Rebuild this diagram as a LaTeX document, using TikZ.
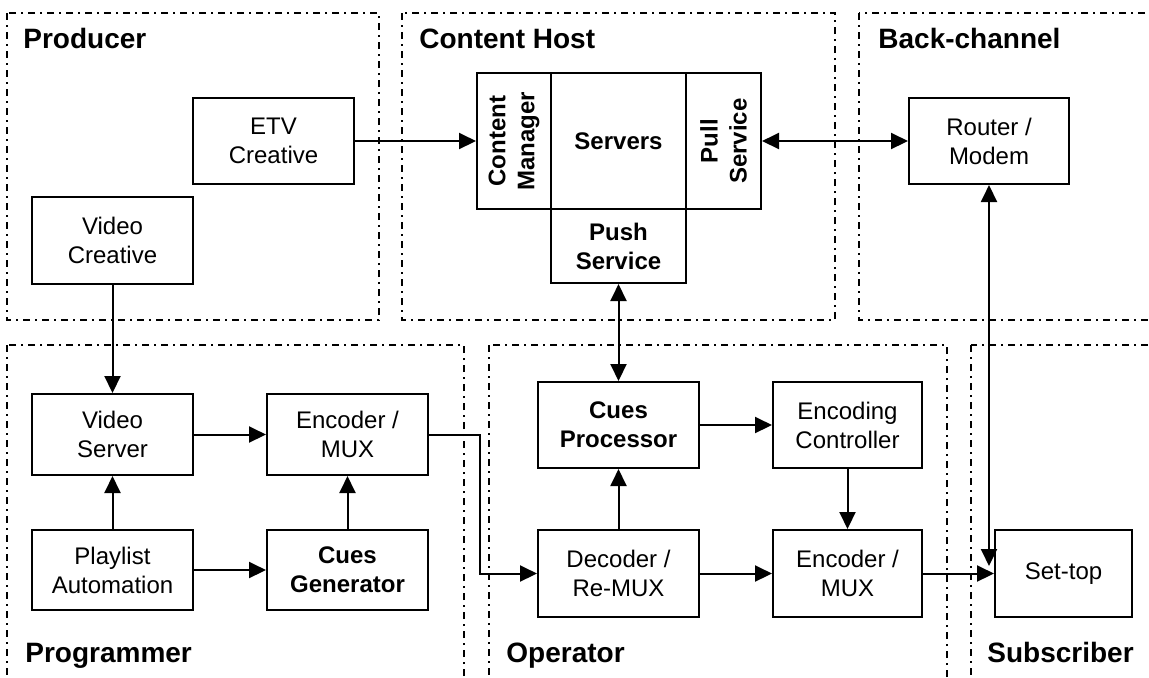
\documentclass[tikz,border=0pt]{standalone}
\usepackage{fontspec}
\setmainfont{Liberation Sans}
\usetikzlibrary{arrows.meta}

\begin{document}
\begin{tikzpicture}[x=0.5pt,y=-0.5pt,
  blk/.style={draw,line width=1pt,align=center,inner sep=0pt,font=\fontsize{12}{14.5}\selectfont},
  blkb/.style={blk,font=\bfseries\fontsize{12}{14.5}\selectfont},
  zone/.style={line width=1pt,dash pattern=on 3.5pt off 2.5pt on 1pt off 2.5pt},
  zonelbl/.style={anchor=base west,inner sep=0pt,font=\bfseries\fontsize{14}{16}\selectfont},
  arr/.style={line width=1pt,-{Triangle[length=8.5pt,width=8pt]}},
  darr/.style={line width=1pt,{Triangle[length=8.5pt,width=8pt]}-{Triangle[length=8.5pt,width=8pt]}}]
  \def\bw{80.5pt};
  \def\bh{42pt};
  \def\cw{74.5pt};
  \useasboundingbox (0,0) rectangle (1149,677);
  \clip (0,0) rectangle (1149,677);
  %zones
  \draw[zone] (7,13) rectangle (379,320);
  \draw[zone] (402,13) rectangle (835,320);
  \draw[zone] (859,13) rectangle (1170,320);
  \draw[zone] (7,345) rectangle (464,700);
  \draw[zone] (489,345) rectangle (947,700);
  \draw[zone] (971,345) rectangle (1170,700);
  \node[zonelbl] (lprod) at (23,48) {Producer};
  \node[zonelbl] (lhost) at (419,48) {Content Host};
  \node[zonelbl] (lback) at (878,48) {Back-channel};
  \node[zonelbl] (lprog) at (25,662) {Programmer};
  \node[zonelbl] (loper) at (506,662) {Operator};
  \node[zonelbl] (lsub) at (987,662) {Subscriber};
  %producer
  \node[blk,minimum width=\bw,minimum height=43pt] (etv) at (273.5,141) {ETV\\Creative};
  \node[blk,minimum width=\bw,minimum height=43.5pt] (vcre) at (112.5,240.5) {Video\\Creative};
  %content host
  \node[blkb,minimum width=67.5pt,minimum height=68pt] (srv) at (618.5,141) {Servers};
  \node[blkb,rotate=90,minimum width=68pt,minimum height=37pt] (cm) at (514,141) {Content\\Manager};
  \node[blkb,rotate=90,minimum width=68pt,minimum height=37.5pt] (pull) at (723.5,141) {Pull\\Service};
  \node[blkb,minimum width=67.5pt,minimum height=37pt] (push) at (618.5,246) {Push\\Service};
  %back-channel
  \node[blk,minimum width=80pt,minimum height=43pt] (router) at (989,141) {Router /\\Modem};
  %programmer
  \node[blk,minimum width=\bw,minimum height=40.5pt] (vsrv) at (112.5,434.5) {Video\\Server};
  \node[blk,minimum width=\bw,minimum height=40.5pt] (encp) at (347.5,434.5) {Encoder /\\MUX};
  \node[blk,minimum width=\bw,minimum height=40pt] (play) at (112.5,570) {Playlist\\Automation};
  \node[blkb,minimum width=\bw,minimum height=40pt] (cgen) at (347.5,570) {Cues\\Generator};
  %operator
  \node[blkb,minimum width=\bw,minimum height=43pt] (cproc) at (618.5,425) {Cues\\Processor};
  \node[blk,minimum width=\cw,minimum height=43pt] (ectl) at (847.5,425) {Encoding\\Controller};
  \node[blk,minimum width=\bw,minimum height=43.5pt] (dec) at (618.5,573.5) {Decoder /\\Re-MUX};
  \node[blk,minimum width=\cw,minimum height=43.5pt] (enco) at (847.5,573.5) {Encoder /\\MUX};
  %subscriber
  \node[blk,minimum width=68.5pt,minimum height=43.5pt] (stb) at (1063.5,573.5) {Set-top};
  \coordinate (stbin) at (989,566);
  %links
  \draw[arr] (etv) -- (cm);
  \draw[darr] (pull) -- (router);
  \draw[darr] (push) -- (cproc);
  \draw[darr] (router) -- (stbin);
  \draw[arr] (vcre) -- (vsrv);
  \draw[arr] (vsrv) -- (encp);
  \draw[arr] (play) -- (vsrv);
  \draw[arr] (play) -- (cgen);
  \draw[arr] (cgen) -- (encp);
  \draw[arr] (encp.east) -- ++(51,0) |- (dec.west);
  \draw[arr] (dec) -- (cproc);
  \draw[arr] (cproc) -- (ectl);
  \draw[arr] (ectl) -- (enco);
  \draw[arr] (dec) -- (enco);
  \draw[arr] (enco) -- (stb);
\end{tikzpicture}
\end{document}
